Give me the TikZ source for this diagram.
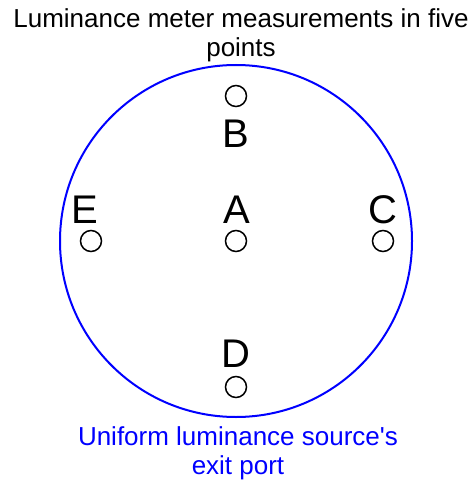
\documentclass[tikz,border=0pt]{standalone}
\usepackage{fontspec}
\setmainfont{Liberation Sans}
\usetikzlibrary{positioning}
\definecolor{portblue}{HTML}{0000FF}
\definecolor{inkblack}{HTML}{000000}

\begin{document}
\begin{tikzpicture}[
    x=1pt, y=1pt,
    caption/.style={align=center, anchor=base, font=\fontsize{26}{29}\selectfont},
    port/.style={circle, draw=portblue, line width=2pt, minimum size=352pt, inner sep=0pt},
    spot/.style={circle, draw=inkblack, line width=1.5pt, minimum size=21pt, inner sep=0pt},
    letter/.style={anchor=base, font=\fontsize{40}{40}\selectfont, inner sep=0pt},
]
    \useasboundingbox (0,0) rectangle (473,-484);

    % =====================================================================
    % EXIT PORT AND TITLE
    % =====================================================================
    \node[caption] (title) at (241,-57) {Luminance meter measurements in five\\points};
    \node[port] (exitport) at (236,-241) {};
    \node[caption, text=portblue] (portlabel) at (238,-474) {Uniform luminance source\textquotesingle s\\exit port};

    % =====================================================================
    % MEASUREMENT POINTS
    % =====================================================================
    \node[spot] (ptA) at (236,-241) {};
    \node[spot] (ptB) at (236,-96) {};
    \node[spot] (ptC) at (383,-241) {};
    \node[spot] (ptD) at (236,-387) {};
    \node[spot] (ptE) at (91,-241) {};

    \node[letter] (lblA) at (237,-223) {A};
    \node[letter] (lblB) at (236,-147) {B};
    \node[letter] (lblC) at (383,-223) {C};
    \node[letter] (lblD) at (236,-367) {D};
    \node[letter] (lblE) at (85,-223) {E};

\end{tikzpicture}
\end{document}
